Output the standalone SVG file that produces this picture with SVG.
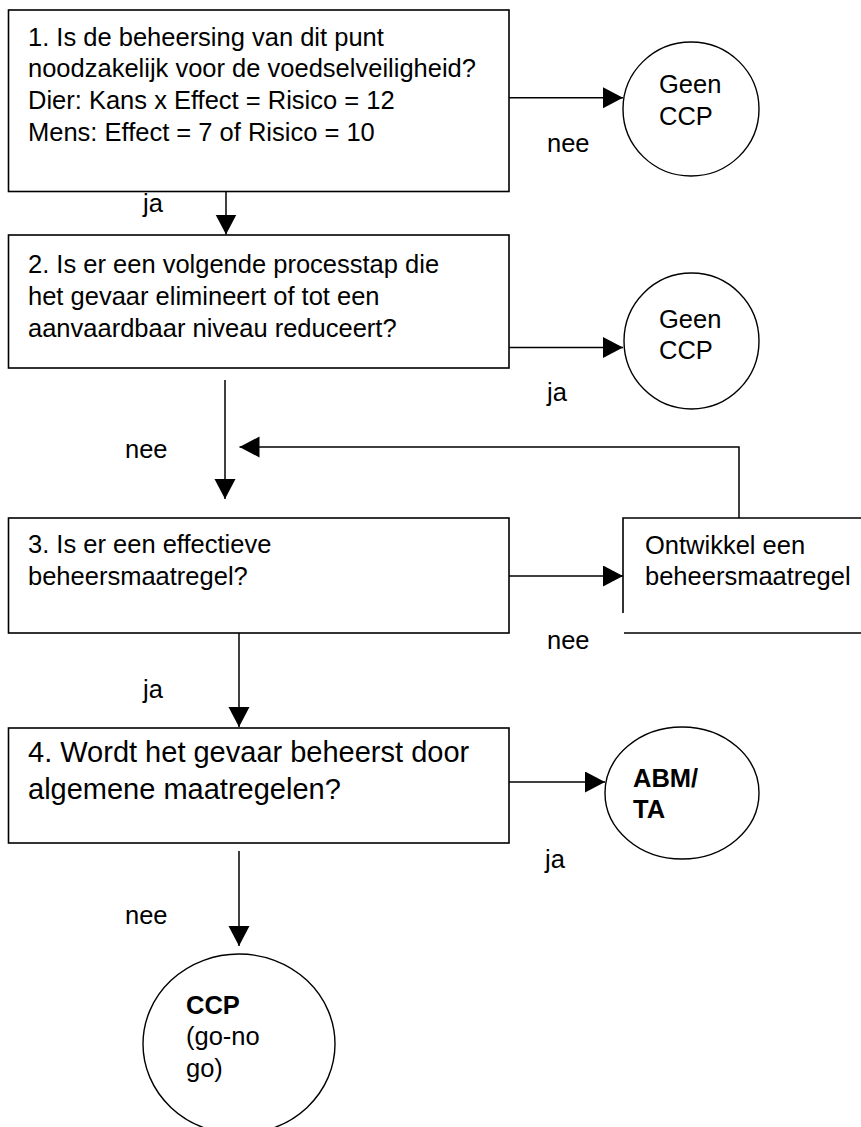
<svg xmlns="http://www.w3.org/2000/svg" width="861" height="1127" viewBox="0 0 861 1127">
<defs>
<marker id="ah" markerUnits="userSpaceOnUse" markerWidth="22" markerHeight="22" refX="20" refY="10.5" orient="auto">
<path d="M0,0 L20,10.5 L0,21 Z" fill="#000"/>
</marker>
<style>
.box{fill:#fff;stroke:#000;stroke-width:1.6}
.sh{fill:#fff;stroke:#000;stroke-width:1.4}
.ln{fill:none;stroke:#000;stroke-width:1.5}
.t{font-family:"Liberation Sans",Arial,sans-serif;font-size:25.5px;fill:#000}
.t4{font-family:"Liberation Sans",Arial,sans-serif;font-size:29px;fill:#000}
.b{font-weight:bold}
</style>
</defs>
<rect width="861" height="1127" fill="#fff"/>
<g id="connectors">
<line class="ln" x1="509" y1="97.7" x2="623" y2="97.7" marker-end="url(#ah)"/>
<line class="ln" x1="226" y1="188" x2="226" y2="234.5" marker-end="url(#ah)"/>
<line class="ln" x1="509" y1="347.5" x2="623" y2="347.5" marker-end="url(#ah)"/>
<line class="ln" x1="225" y1="380" x2="225" y2="499" marker-end="url(#ah)"/>
<polyline class="ln" points="739,518 739,447 239.5,447" marker-end="url(#ah)"/>
<line class="ln" x1="509" y1="576" x2="623" y2="576" marker-end="url(#ah)"/>
<line class="ln" x1="239" y1="631" x2="239" y2="727" marker-end="url(#ah)"/>
<line class="ln" x1="509" y1="782" x2="605" y2="782" marker-end="url(#ah)"/>
<line class="ln" x1="239" y1="851" x2="239" y2="946" marker-end="url(#ah)"/>
<text class="t" x="143" y="212">ja</text>
<text class="t" x="547" y="152">nee</text>
<text class="t" x="547" y="401">ja</text>
<text class="t" x="125" y="458">nee</text>
<text class="t" x="547" y="649">nee</text>
<text class="t" x="143" y="698">ja</text>
<text class="t" x="545" y="868">ja</text>
<text class="t" x="125" y="924">nee</text>
</g>
<g id="q1">
<rect class="box" x="8.5" y="10" width="500.5" height="181.5"/>
<text class="t" x="28" y="45.7">1. Is de beheersing van dit punt</text>
<text class="t" x="28" y="77.3">noodzakelijk voor de voedselveiligheid?</text>
<text class="t" x="28" y="109">Dier: Kans x Effect = Risico = 12</text>
<text class="t" x="28" y="140.7">Mens: Effect = 7 of Risico = 10</text>
</g>
<g id="geen-ccp-1">
<ellipse class="sh" cx="691" cy="109" rx="68" ry="67"/>
<text class="t" x="659" y="93">Geen</text>
<text class="t" x="659" y="125">CCP</text>
</g>
<g id="q2">
<rect class="box" x="8.5" y="235" width="500.5" height="133"/>
<text class="t" x="28" y="272.7">2. Is er een volgende processtap die</text>
<text class="t" x="28" y="305">het gevaar elimineert of tot een</text>
<text class="t" x="28" y="336.7">aanvaardbaar niveau reduceert?</text>
</g>
<g id="geen-ccp-2">
<ellipse class="sh" cx="691.5" cy="341" rx="67.5" ry="68"/>
<text class="t" x="659" y="328">Geen</text>
<text class="t" x="659" y="359">CCP</text>
</g>
<g id="q3">
<rect class="box" x="8.5" y="518" width="500.5" height="115"/>
<text class="t" x="28" y="552.7">3. Is er een effectieve</text>
<text class="t" x="28" y="585.3">beheersmaatregel?</text>
</g>
<g id="ontwikkel">
<rect x="623" y="518" width="240" height="115" fill="#fff"/>
<path class="ln" d="M623,613 V518 H863 M624,633 H863" style="stroke-width:1.6"/>
<text class="t" x="645" y="554">Ontwikkel een</text>
<text class="t" x="645" y="585.3">beheersmaatregel</text>
</g>
<g id="q4">
<rect class="box" x="8.5" y="728" width="500.5" height="115"/>
<text class="t4" x="28" y="762">4. Wordt het gevaar beheerst door</text>
<text class="t4" x="28" y="799">algemene maatregelen?</text>
</g>
<g id="abm-ta">
<ellipse class="sh" cx="682" cy="793" rx="77" ry="66"/>
<text class="t b" x="633" y="787">ABM/</text>
<text class="t b" x="633" y="818">TA</text>
</g>
<g id="ccp">
<ellipse class="sh" cx="239" cy="1044" rx="96" ry="90"/>
<text class="t b" x="186" y="1013.7">CCP</text>
<text class="t" x="186" y="1045.3">(go-no</text>
<text class="t" x="186" y="1077">go)</text>
</g>
</svg>
